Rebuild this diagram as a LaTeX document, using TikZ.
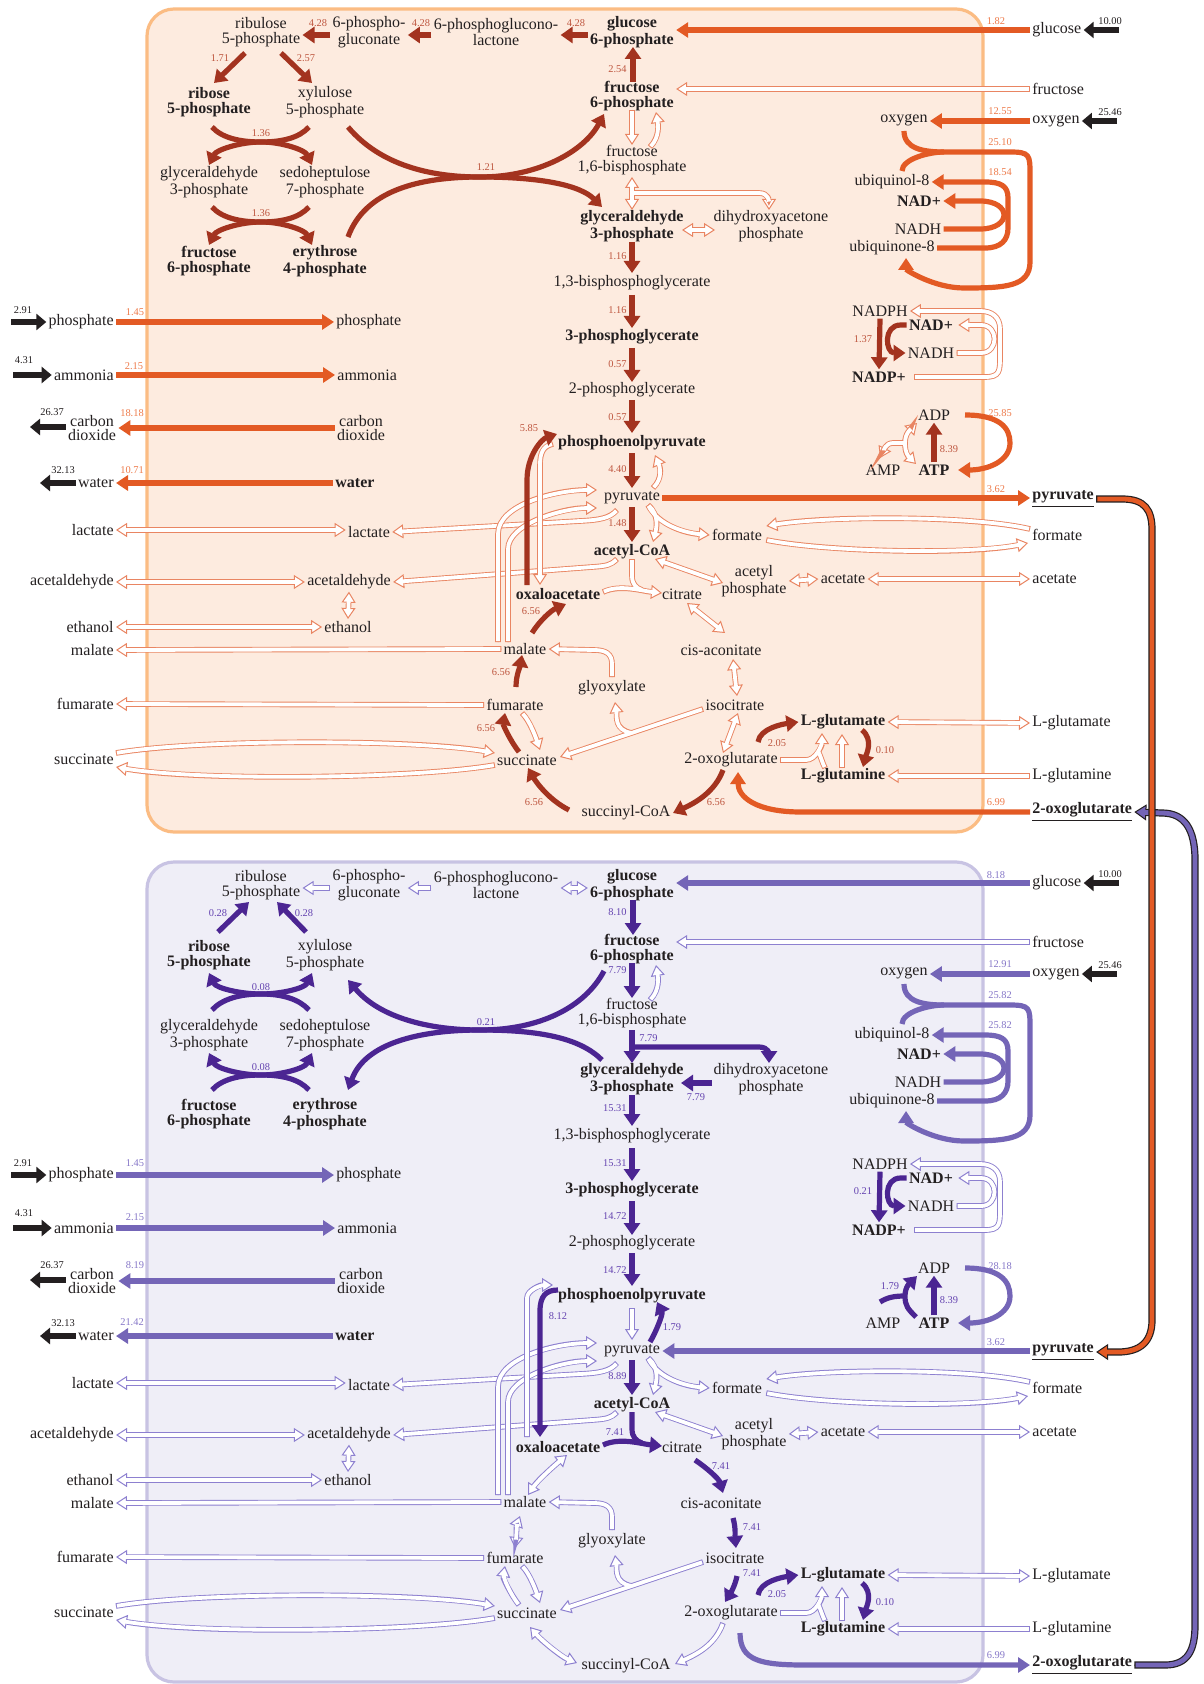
\documentclass[tikz,border=0pt]{standalone}
\usepackage{fontspec}
\setmainfont{Liberation Serif}
\usetikzlibrary{arrows.meta,calc}

\definecolor{txt}{HTML}{231F20}
\definecolor{topbg}{HTML}{FDEBDF}
\definecolor{topbd}{HTML}{FBBC83}
\definecolor{topdk}{HTML}{A3331F}
\definecolor{topex}{HTML}{E35A24}
\definecolor{topho}{HTML}{E98562}
\definecolor{topnd}{HTML}{BE563F}
\definecolor{topne}{HTML}{EE7B4B}
\definecolor{botbg}{HTML}{EFEEF7}
\definecolor{botbd}{HTML}{C8C3E3}
\definecolor{botdk}{HTML}{4B2592}
\definecolor{botex}{HTML}{7465B7}
\definecolor{botho}{HTML}{8D80D0}
\definecolor{botnd}{HTML}{6443B0}
\definecolor{botne}{HTML}{8677C8}
\colorlet{cdk}{topdk}\colorlet{cex}{topex}\colorlet{cho}{topho}\colorlet{cnd}{topnd}\colorlet{cne}{topne}

\tikzset{
 lab/.style={font=\fontsize{8}{7.2}\selectfont, text=txt, align=center, inner sep=1pt},
 blab/.style={lab, font=\fontsize{8}{7.2}\selectfont\bfseries},
 nd/.style={font=\fontsize{5.2}{5.2}\selectfont, text=cnd, inner sep=0.5pt},
 ne/.style={font=\fontsize{5.2}{5.2}\selectfont, text=cne, inner sep=0.5pt},
 nk/.style={font=\fontsize{5.2}{5.2}\selectfont, text=txt, inner sep=0.5pt},
 dkA/.style={draw=cdk, line width=2.6pt, -{Triangle[width=8pt,length=6pt]}},
 dkL/.style={draw=cdk, line width=2.6pt},
 exA/.style={draw=cex, line width=2.6pt, -{Triangle[width=7.5pt,length=6pt]}},
 exL/.style={draw=cex, line width=2.6pt},
 blkA/.style={draw=txt, line width=3.2pt, -{Triangle[width=8pt,length=5pt]}},
 htE/.style={draw=cho, line width=0.5pt, -{Triangle[width=7pt,length=5.5pt,fill=white]}},
 htB/.style={draw=cho, line width=0.5pt, {Triangle[width=7pt,length=5.5pt,fill=white]}-{Triangle[width=7pt,length=5.5pt,fill=white]}},
 hb/.style={draw=cho, line width=2.8pt},
 hw/.style={draw=white, line width=1.9pt},
}

\newcommand\holA[1]{\draw[htE] #1;\draw[hb,shorten >=5.5pt] #1;\draw[hw,shorten >=4.2pt,shorten <=0.5pt] #1;}
\newcommand\holD[1]{\draw[htB] #1;\draw[hb,shorten >=5.5pt,shorten <=5.5pt] #1;\draw[hw,shorten >=4.2pt,shorten <=4.2pt] #1;}
\newcommand\holYY[2]{\draw[htE] #1;\draw[htE] #2;\draw[hb,shorten >=5.5pt] #1;\draw[hb,shorten >=5.5pt] #2;\draw[hw,shorten >=4.2pt,shorten <=0.5pt] #1;\draw[hw,shorten >=4.2pt,shorten <=0.5pt] #2;}
\newcommand\holYN[2]{\draw[htE] #2;\draw[hb] #1;\draw[hb,shorten >=5.5pt] #2;\draw[hw,shorten <=0.5pt] #1;\draw[hw,shorten >=4.2pt,shorten <=0.5pt] #2;}
\newcommand\xarrow[2]{%
 \draw[draw=txt,line width=0.5pt,-{Triangle[width=8pt,length=6pt,fill=#1]}] #2;
 \draw[draw=txt,line width=3.6pt,shorten >=5.8pt] #2;
 \draw[draw=#1,line width=2.4pt,shorten >=4.6pt,shorten <=0.6pt] #2;}

\newcommand\panelnodes{%
\node[lab] (rl5p) at (261,32) {ribulose\\5-phosphate};
\node[lab] (pgn) at (369,32) {6-phospho-\\gluconate};
\node[lab] (pgl) at (496,32) {6-phosphoglucono-\\lactone};
\node[blab] (g6p) at (632,32) {glucose\\6-phosphate};
\node[blab] (r5p) at (209,102) {ribose\\5-phosphate};
\node[lab] (xu5p) at (325,102) {xylulose\\5-phosphate};
\node[lab] (gapL) at (209,182) {glyceraldehyde\\3-phosphate};
\node[lab] (s7p) at (325,182) {sedoheptulose\\7-phosphate};
\node[blab] (f6pL) at (209,261) {fructose\\6-phosphate};
\node[blab] (e4p) at (325,261) {erythrose\\4-phosphate};
\node[blab] (f6p) at (632,96) {fructose\\6-phosphate};
\node[lab] (fbp) at (632,160) {fructose\\1,6-bisphosphate};
\node[blab] (gap) at (632,226) {glyceraldehyde\\3-phosphate};
\node[lab] (dhap) at (771,226) {dihydroxyacetone\\phosphate};
\node[lab] (bpg) at (632,283) {1,3-bisphosphoglycerate};
\node[blab] (pg3) at (632,337) {3-phosphoglycerate};
\node[lab] (pg2) at (632,390) {2-phosphoglycerate};
\node[blab] (pep) at (632,443) {phosphoenolpyruvate};
\node[lab] (pyr) at (632,498) {pyruvate};
\node[blab] (accoa) at (632,552) {acetyl-CoA};
\node[blab] (oaa) at (558,594) {oxaloacetate};
\node[lab] (cit) at (682,594) {citrate};
\node[lab] (form) at (737,535) {formate};
\node[lab] (acp) at (754,581) {acetyl\\phosphate};
\node[lab] (ace) at (843,579) {acetate};
\node[lab] (mal) at (525,649) {malate};
\node[lab] (acon) at (721,650) {cis-aconitate};
\node[lab] (glx) at (612,688) {glyoxylate};
\node[lab] (fum) at (515,705) {fumarate};
\node[lab] (icit) at (735,705) {isocitrate};
\node[lab] (suc) at (527,760) {succinate};
\node[lab] (akg) at (731,760) {2-oxoglutarate};
\node[lab] (succoa) at (626,813) {succinyl-CoA};
\node[blab] (glu) at (843,722) {L-glutamate};
\node[blab] (gln) at (843,776) {L-glutamine};
\node[lab] (o2) at (904,120) {oxygen};
\node[lab] (uql) at (892,182) {ubiquinol-8};
\node[blab] (nad1) at (919,201) {NAD+};
\node[lab] (nadh1) at (918,229) {NADH};
\node[lab] (uq) at (892,248) {ubiquinone-8};
\node[lab] (nadph) at (880,311) {NADPH};
\node[blab] (nad2) at (931,325) {NAD+};
\node[lab] (nadh2) at (931,353) {NADH};
\node[blab] (nadp) at (879,377) {NADP+};
\node[lab] (adp) at (934,415) {ADP};
\node[lab] (amp) at (883,470) {AMP};
\node[blab] (atp) at (934,470) {ATP};
\node[lab,anchor=west] (xglc) at (1030,30) {glucose};
\node[lab,anchor=west] (xfru) at (1030,89) {fructose};
\node[lab,anchor=west] (xo2) at (1030,121) {oxygen};
\node[lab,anchor=west] (xpyr) at (1030,499) {\underline{\textbf{pyruvate}}};
\node[lab,anchor=west] (xform) at (1030,535) {formate};
\node[lab,anchor=west] (xace) at (1030,579) {acetate};
\node[lab,anchor=west] (xglu) at (1030,723) {L-glutamate};
\node[lab,anchor=west] (xgln) at (1030,776) {L-glutamine};
\node[lab,anchor=west] (xakg) at (1030,812) {\underline{\textbf{2-oxoglutarate}}};
\node[lab,anchor=east] (xpi) at (116,322) {phosphate};
\node[lab,anchor=east] (xnh3) at (116,375) {ammonia};
\node[lab] (xco2) at (92,428) {carbon\\dioxide};
\node[lab,anchor=east] (xh2o) at (116,483) {water};
\node[lab,anchor=east] (xlac) at (116,530) {lactate};
\node[lab,anchor=east] (xacald) at (116,582) {acetaldehyde};
\node[lab,anchor=east] (xetoh) at (116,627) {ethanol};
\node[lab,anchor=east] (xmal) at (116,650) {malate};
\node[lab,anchor=east] (xfum) at (116,704) {fumarate};
\node[lab,anchor=east] (xsuc) at (116,759) {succinate};
\node[lab,anchor=west] (pi) at (334,322) {phosphate};
\node[lab,anchor=west] (nh3) at (335,375) {ammonia};
\node[lab] (co2) at (361,428) {carbon\\dioxide};
\node[blab,anchor=west] (h2o) at (333,483) {water};
\node[lab] (lac) at (369,532) {lactate};
\node[lab] (acald) at (349,582) {acetaldehyde};
\node[lab] (etoh) at (348,627) {ethanol};
\coordinate (kpi) at (11,322);
\coordinate (knh3) at (13,375);
\coordinate (kco2) at (30,427);
\coordinate (kh2o) at (40,483);
\coordinate (kglc) at (1119,30);
\coordinate (ko2) at (1117,121);
\coordinate (J) at ($(adp)+(-29,28)$);
}

\newcommand\blackarrows{%
\draw[blkA] (kpi) -- (xpi.west);
\draw[blkA] (knh3) -- (xnh3.west);
\draw[blkA] (xco2.west |- kco2) -- (kco2);
\draw[blkA] (xh2o.west) -- (kh2o);
\draw[blkA] (kglc) -- (xglc.east);
\draw[blkA] (ko2) -- (xo2.east);
\node[nk] (k1) at (23,310) {2.91};
\node[nk] (k2) at (24,360) {4.31};
\node[nk] (k3) at (52,412) {26.37};
\node[nk] (k4) at (63,470) {32.13};
\node[nk] (k5) at (1110,21) {10.00};
\node[nk] (k6) at (1110,112) {25.46};
}

\newcommand\commonarrows{%
\draw[exA] (xglc.west) -- (g6p.east |- xglc.west);
\holA{(xfru.west) -- (f6p.east |- xfru.west)}
\draw[exA] (xo2.west) -- (o2.east |- xo2.west);
\draw[exA] (xpi.east) -- (pi.west);
\draw[exA] (xnh3.east) -- (nh3.west);
\draw[exA] (co2.west) -- (xco2.east);
\draw[exA] (h2o.west) -- (xh2o.east);
\holD{(xlac.east) -- (lac.west |- xlac.east)}
\holD{(xacald.east) -- (acald.west)}
\holD{(xetoh.east) -- (etoh.west)}
\holD{(acald.south) -- (etoh.north)}
\holA{(mal.west) -- (xmal.east)}
\holA{(fum.west) -- (xfum.east)}
\holA{($(xsuc.east)+(0,-6)$) .. controls +(80,-14) and +(-80,-14) .. ($(suc.west)+(0,-7)$)}
\holA{($(suc.west)+(0,5)$) .. controls +(-80,14) and +(80,14) .. ($(xsuc.east)+(0,8)$)}
\holA{($(xform.west)+(0,-6)$) .. controls +(-60,-14) and +(60,-10) .. ($(form.east)+(2,-9)$)}
\holA{($(form.east)+(2,5)$) .. controls +(60,12) and +(-60,12) .. ($(xform.west)+(-2,8)$)}
\holD{(ace.east) -- (xace.west)}
\holD{(glu.east) -- (xglu.west)}
\holA{(xgln.west) -- (gln.east)}
% respiration loops
\draw[exL] ($(uql)+(10,-11)$) .. controls +(0,-12) and +(-15,0) .. ($(o2)+(40,32)$);
\draw[exA] ($(o2)+(0,11)$) .. controls +(0,18) and +(-20,0) .. ($(o2)+(40,32)$) -- ($(o2)+(106,32)$) .. controls +(20,0) and +(0,-20) .. ($(o2)+(126,55)$) -- ($(o2)+(126,142)$) .. controls +(0,25) and +(40,0) .. ($(o2)+(60,168)$) .. controls +(-30,0) and +(0,12) .. ($(uq)+(14,10)$);
\draw[exA] (uq.east) -- ($(uq)+(93,0)$) .. controls +(16,0) and +(0,12) .. ($(uq)+(116,-20)$) -- ($(uq)+(116,-50)$) .. controls +(0,-12) and +(16,0) .. ($(uq)+(93,-66)$) -- (uql.east);
\draw[exA] (nadh1.east) -- ($(nadh1)+(62,0)$) .. controls +(32,0) and +(32,0) .. ($(nadh1)+(62,-28)$) -- (nad1.east);
% transhydrogenase
\holA{($(nadp.east)+(6,0)$) -- ($(nadph)+(105,66)$) .. controls +(15,0) and +(0,15) .. ($(nadph)+(120,45)$) -- ($(nadph)+(120,18)$) .. controls +(0,-12) and +(12,0) .. ($(nadph)+(100,0)$) -- (nadph.east)}
\holA{(nadh2.east) -- ($(nadh2)+(50,0)$) .. controls +(18,0) and +(18,0) .. ($(nad2)+(50,0)$) -- ($(nad2.east)+(3,0)$)}
\draw[dkA] (nadph.south) -- (nadp.north);
\draw[dkA] (nad2.west) -- ($(nad2.west)+(-6,0)$) .. controls +(-18,0) and +(-20,0) .. (nadh2.west);
% ATP
\draw[dkA] (atp.north) -- (adp.south);
\draw[exA] ($(adp)+(31,0)$) .. controls +(35,0) and +(0,-15) .. ($(adp)+(76,28)$) .. controls +(0,18) and +(30,0) .. ($(atp)+(24,0)$);
% glycolysis
\draw[dkA] ($(gap)+(0,16)$) -- ($(bpg)+(0,-10)$);
\draw[dkA] ($(bpg)+(0,12)$) -- ($(pg3)+(0,-9)$);
\draw[dkA] ($(pg3)+(0,11)$) -- ($(pg2)+(0,-8)$);
\draw[dkA] ($(pg2)+(0,10)$) -- ($(pep)+(0,-10)$);
\draw[dkA] ($(pyr)+(0,9)$) -- ($(accoa)+(0,-10)$);
\holA{($(fbp)+(18,-13)$) .. controls +(10,-10) and +(2,12) .. ($(f6p)+(24,16)$)}
% fermentation / malic enzyme
\holA{($(pyr)+(-15,12)$) .. controls +(-7,8) and +(20,-1) .. ($(pyr)+(-52,23)$) -- (lac.east)}
\holA{($(accoa)+(-15,7)$) .. controls +(-6,6) and +(15,-1) .. ($(accoa)+(-40,15)$) -- (acald.east)}
\holA{($(mal)+(-27,-7)$) -- ($(mal)+(-27,-115)$) .. controls +(0,-30) and +(-40,0) .. ($(pyr)+(-35,-8)$)}
\holA{($(mal)+(-17,-7)$) -- ($(mal)+(-17,-100)$) .. controls +(0,-25) and +(-35,0) .. ($(pyr)+(-35,10)$)}
\holYY{($(pyr)+(16,7)$) .. controls +(12,10) and +(3,-12) .. ($(accoa)+(21,-10)$)}{($(pyr)+(16,7)$) .. controls +(10,20) and +(-25,-2) .. (form.west)}
\holD{($(accoa)+(23,7)$) -- ($(acp)+(-31,2)$)}
\holD{(acp.east) -- (ace.west)}
% glyoxylate shunt
\holYY{($(icit)+(-103,28)$) .. controls +(-18,-3) and +(2,14) .. ($(glx)+(3,14)$)}{($(icit)+(-32,4)$) -- ($(suc)+(33,-3)$)}
\holA{($(glx)+(0,-11)$) -- ($(glx)+(0,-24)$) .. controls +(0,-10) and +(12,0) .. ($(glx)+(-18,-38)$) -- (mal.east)}
\holA{($(fum)+(7,8)$) .. controls +(8,8) and +(-4,-12) .. ($(suc)+(13,-10)$)}
% glutamate
\holA{($(gln)+(-1,-8)$) -- ($(glu)+(-1,12)$)}
\holYN{($(gln)+(-18,-8)$) .. controls +(-3,-6) and +(3,6) .. ($(glu)+(-25,29)$)}{(akg.east) -- ($(akg)+(75,0)$) .. controls +(10,0) and +(0,12) .. ($(glu)+(-21,11)$)}
\draw[dkA] ($(akg)+(27,-18)$) .. controls +(2,-14) and +(-15,2) .. (glu.west);
\draw[dkA] ($(glu)+(19,8)$) .. controls +(12,10) and +(3,-12) .. ($(gln)+(20,-9)$);
}

\begin{document}
\begin{tikzpicture}[x=0.5pt,y=-0.5pt]
\useasboundingbox (0,0) rectangle (1203,1684);
\fill[white] (0,0) rectangle (1203,1684);

%================ TOP PANEL =================
\begin{scope}[name prefix=t-]
\colorlet{cdk}{topdk}\colorlet{cex}{topex}\colorlet{cho}{topho}\colorlet{cnd}{topnd}\colorlet{cne}{topne}
\draw[fill=topbg,draw=topbd,line width=1.6pt,rounded corners=13.5pt] (147,9) rectangle (983,832);
\panelnodes
\blackarrows
\commonarrows
% pentose phosphate
\draw[dkA] ([yshift=-1.5pt]pgn.west) -- ([yshift=-1.5pt]rl5p.east);
\draw[dkA] ([yshift=-1.5pt]pgl.west) -- ([yshift=-1.5pt]pgn.east);
\draw[dkA] ([yshift=-1.5pt]g6p.west) -- ([yshift=-1.5pt]pgl.east);
\draw[dkA] ($(rl5p)+(-16,21)$) -- ($(r5p)+(5,-19)$);
\draw[dkA] ($(rl5p)+(20,21)$) -- ($(xu5p)+(-13,-19)$);
\coordinate (c1) at ($(r5p)!0.5!(xu5p)+(-6,40)$);
\coordinate (c2) at ($(gapL)!0.5!(s7p)+(-6,40)$);
\coordinate (c3) at ($(xu5p)+(155,75)$);
\draw[dkA] ($(r5p)+(3,25)$) .. controls +(10,11) and +(-21,0) .. (c1) .. controls +(21,0) and +(-7,-15) .. ($(s7p)+(-13,-17)$);
\draw[dkA] ($(xu5p)+(-16,25)$) .. controls +(-10,11) and +(21,0) .. (c1) .. controls +(-21,0) and +(7,-15) .. ($(gapL)+(0,-17)$);
\draw[dkA] ($(gapL)+(3,25)$) .. controls +(10,11) and +(-21,0) .. (c2) .. controls +(21,0) and +(-7,-15) .. ($(e4p)+(-13,-16)$);
\draw[dkA] ($(s7p)+(-16,25)$) .. controls +(-10,11) and +(21,0) .. (c2) .. controls +(-21,0) and +(7,-15) .. ($(f6pL)+(0,-16)$);
\draw[dkA] ($(xu5p)+(23,25)$) .. controls +(32,38) and +(-50,0) .. (c3) .. controls +(60,0) and +(-19,36) .. ($(f6p)+(-28,18)$);
\draw[dkA] ($(e4p)+(23,-24)$) .. controls +(17,-47) and +(-60,0) .. (c3) .. controls +(60,0) and +(-22,-22) .. ($(gap)+(-30,-19)$);
% upper glycolysis
\draw[dkA] ($(f6p)+(1,-14)$) -- ($(g6p)+(1,15)$);
\holA{($(f6p)+(0,14)$) -- ($(fbp)+(0,-15)$)}
\draw[htB] ($(fbp)+(0,17)$) -- ($(gap)+(0,-16)$);
\draw[htE] ($(fbp)+(0,33)$) -- ($(dhap)+(-12,-33)$) .. controls +(10,0) and +(0,-8) .. ($(dhap)+(-2,-16)$);
\draw[hb,shorten >=5.5pt,shorten <=5.5pt] ($(fbp)+(0,17)$) -- ($(gap)+(0,-16)$);
\draw[hb,shorten >=5.5pt] ($(fbp)+(0,33)$) -- ($(dhap)+(-12,-33)$) .. controls +(10,0) and +(0,-8) .. ($(dhap)+(-2,-16)$);
\draw[hw,shorten >=4.2pt,shorten <=4.2pt] ($(fbp)+(0,17)$) -- ($(gap)+(0,-16)$);
\draw[hw,shorten >=4.2pt] ($(fbp)+(0,33)$) -- ($(dhap)+(-12,-33)$) .. controls +(10,0) and +(0,-8) .. ($(dhap)+(-2,-16)$);
\holD{($(gap)+(50,4)$) -- ($(dhap)+(-56,4)$)}
% PEP / pyruvate / OAA
\draw[dkA] ($(pep)+(0,10)$) -- ($(pyr)+(0,-10)$);
\holA{($(pyr)+(21,-10)$) .. controls +(10,-10) and +(5,12) .. ($(pep)+(23,12)$)}
\holA{($(pep)+(-79,1)$) .. controls +(-10,2) and +(0,-12) .. ($(oaa)+(-18,-129)$) -- ($(oaa)+(-18,-9)$)}
\draw[dkA] ($(oaa)+(-31,-9)$) -- ($(oaa)+(-31,-114)$) .. controls +(0,-25) and +(-15,5) .. ($(pep)+(-75,-9)$);
\holYN{($(accoa)+(0,7)$) -- ($(accoa)+(0,24)$) .. controls +(0,8) and +(-6,-2) .. ($(accoa)+(10,38)$)}{($(oaa)+(45,-2)$) .. controls +(17,-8) and +(-20,-2) .. ($(cit)+(-20,-1)$)}
% TCA
\holD{($(cit)+(5,9)$) -- ($(acon)+(4,-17)$)}
\holD{($(acon)+(12,9)$) -- ($(icit)+(2,-9)$)}
\holD{($(icit)+(3,8)$) -- ($(akg)+(-8,-7)$)}
\draw[dkA] ($(akg)+(-8,10)$) .. controls +(-8,22) and +(22,-10) .. ($(succoa)+(47,0)$);
\draw[dkA] ($(succoa)+(-57,-3)$) .. controls +(-20,-10) and +(8,14) .. ($(suc)+(1,8)$);
\draw[dkA] ($(suc)+(-8,-8)$) .. controls +(-8,-10) and +(-2,12) .. ($(fum)+(-10,8)$);
\draw[dkA] ($(fum)+(1,-18)$) .. controls +(0,-12) and +(-2,12) .. ($(mal)+(-3,6)$);
\draw[dkA] ($(mal)+(7,-16)$) .. controls +(8,-13) and +(-14,6) .. ($(oaa)+(8,10)$);
% exchange
\draw[exA] (pyr.east) -- (xpyr.west |- pyr.east);
\draw[exA] (xakg.west) -- ($(akg)+(70,52)$) .. controls +(-45,0) and +(0,25) .. ($(akg)+(7,12)$);
% adenylate kinase (hollow)
\draw[htB] ($(atp)+(-18,-6)$) .. controls +(-8,-8) and +(0,10) .. (J) .. controls +(0,-10) and +(-6,6) .. ($(adp)+(-17,8)$);
\draw[htE] (J) -- ($(J)+(-12,0)$) .. controls +(-8,0) and +(3,-6) .. ($(amp)+(-3,-12)$);
\draw[hb,shorten >=5.5pt,shorten <=5.5pt] ($(atp)+(-18,-6)$) .. controls +(-8,-8) and +(0,10) .. (J) .. controls +(0,-10) and +(-6,6) .. ($(adp)+(-17,8)$);
\draw[hb,shorten >=5.5pt] (J) -- ($(J)+(-12,0)$) .. controls +(-8,0) and +(3,-6) .. ($(amp)+(-3,-12)$);
\draw[hw,shorten >=4.2pt,shorten <=4.2pt] ($(atp)+(-18,-6)$) .. controls +(-8,-8) and +(0,10) .. (J) .. controls +(0,-10) and +(-6,6) .. ($(adp)+(-17,8)$);
\draw[hw,shorten >=4.2pt] (J) -- ($(J)+(-12,0)$) .. controls +(-8,0) and +(3,-6) .. ($(amp)+(-3,-12)$);
% flux labels
\node[nd] (n1) at (318,23) {4.28};
\node[nd] (n2) at (421,23) {4.28};
\node[nd] (n3) at (576,23) {4.28};
\node[nd] (n4) at (220,58) {1.71};
\node[nd] (n5) at (306,58) {2.57};
\node[nd] (n6) at (261,133) {1.36};
\node[nd] (n7) at (261,213) {1.36};
\node[nd] (n8) at (486,167) {1.21};
\node[nd,anchor=east] (n9) at (628,69) {2.54};
\node[nd,anchor=east] (n10) at (628,256) {1.16};
\node[nd,anchor=east] (n11) at (628,310) {1.16};
\node[nd,anchor=east] (n12) at (628,364) {0.57};
\node[nd,anchor=east] (n13) at (628,417) {0.57};
\node[nd,anchor=east] (n14) at (628,469) {4.40};
\node[nd,anchor=east] (n15) at (628,523) {1.48};
\node[nd] (n16) at (529,428) {5.85};
\node[nd] (n17) at (531,611) {6.56};
\node[nd] (n18) at (501,672) {6.56};
\node[nd] (n19) at (486,728) {6.56};
\node[nd] (n20) at (534,802) {6.56};
\node[nd] (n21) at (716,802) {6.56};
\node[nd] (n22) at (777,743) {2.05};
\node[nd] (n23) at (885,750) {0.10};
\node[nd] (n24) at (863,339) {1.37};
\node[nd] (n25) at (949,449) {8.39};
\node[ne] (e1) at (996,21) {1.82};
\node[ne] (e2) at (1000,111) {12.55};
\node[ne] (e3) at (1000,142) {25.10};
\node[ne] (e4) at (1000,172) {18.54};
\node[ne] (e5) at (1000,413) {25.85};
\node[ne] (e6) at (996,489) {3.62};
\node[ne] (e7) at (996,802) {6.99};
\node[ne] (e8) at (135,312) {1.45};
\node[ne] (e9) at (134,366) {2.15};
\node[ne] (e10) at (132,413) {18.18};
\node[ne] (e11) at (132,470) {10.71};
\end{scope}

%================ BOTTOM PANEL =================
\begin{scope}[shift={(0,853)},name prefix=b-]
\colorlet{cdk}{botdk}\colorlet{cex}{botex}\colorlet{cho}{botho}\colorlet{cnd}{botnd}\colorlet{cne}{botne}
\draw[fill=botbg,draw=botbd,line width=1.6pt,rounded corners=13.5pt] (147,9) rectangle (983,829);
\panelnodes
\blackarrows
\commonarrows
% pentose phosphate
\holA{([yshift=-1.5pt]pgn.west) -- ([yshift=-1.5pt]rl5p.east)}
\holA{([yshift=-1.5pt]pgl.west) -- ([yshift=-1.5pt]pgn.east)}
\holD{([yshift=-1.5pt]g6p.west) -- ([yshift=-1.5pt]pgl.east)}
\draw[dkA] ($(r5p)+(9,-23)$) -- ($(rl5p)+(-12,17)$);
\draw[dkA] ($(xu5p)+(-19,-23)$) -- ($(rl5p)+(16,17)$);
\coordinate (c1) at ($(r5p)!0.5!(xu5p)+(-6,39)$);
\coordinate (c2) at ($(gapL)!0.5!(s7p)+(-6,40)$);
\coordinate (c3) at ($(xu5p)+(155,75)$);
\draw[dkA] ($(gapL)+(3,-25)$) .. controls +(10,-11) and +(-21,0) .. (c1) .. controls +(21,0) and +(-7,15) .. ($(xu5p)+(-13,18)$);
\draw[dkA] ($(s7p)+(-16,-25)$) .. controls +(-10,-11) and +(21,0) .. (c1) .. controls +(-21,0) and +(7,15) .. ($(r5p)+(0,18)$);
\draw[dkA] ($(f6pL)+(3,-24)$) .. controls +(10,-11) and +(-21,0) .. (c2) .. controls +(21,0) and +(-7,15) .. ($(s7p)+(-13,18)$);
\draw[dkA] ($(e4p)+(-16,-24)$) .. controls +(-10,-11) and +(21,0) .. (c2) .. controls +(-21,0) and +(7,15) .. ($(gapL)+(0,18)$);
\draw[dkA] ($(f6p)+(-28,22)$) .. controls +(-19,36) and +(60,0) .. (c3) .. controls +(-50,0) and +(32,38) .. ($(xu5p)+(23,25)$);
\draw[dkA] ($(gap)+(-30,-19)$) .. controls +(-22,-22) and +(60,0) .. (c3) .. controls +(-60,0) and +(17,-47) .. ($(e4p)+(23,-24)$);
% upper glycolysis
\draw[dkA] ($(g6p)+(1,15)$) -- ($(f6p)+(1,-14)$);
\draw[dkA] ($(f6p)+(0,14)$) -- ($(fbp)+(0,-15)$);
\draw[dkA] ($(fbp)+(0,17)$) -- ($(gap)+(0,-16)$);
\draw[dkA] ($(fbp)+(0,34)$) -- ($(dhap)+(-12,-32)$) .. controls +(10,0) and +(0,-8) .. ($(dhap)+(-2,-16)$);
\draw[dkA] ($(dhap)+(-59,4)$) -- ($(gap)+(49,4)$);
% PEP / pyruvate / OAA
\holA{($(pep)+(0,12)$) -- ($(pyr)+(0,-11)$)}
\holA{($(oaa)+(-31,-10)$) -- ($(pep)+(-105,2)$) .. controls +(0,-8) and +(-12,0) .. ($(pep)+(-79,-11)$)}
\draw[dkA] ($(pyr)+(18,-9)$) .. controls +(6,-10) and +(6,12) .. ($(pep)+(25,6)$);
\draw[dkA] ($(pep)+(-74,-6)$) .. controls +(-12,0) and +(0,-15) .. ($(pep)+(-92,15)$) -- ($(oaa)+(-18,-10)$);
\draw[dkL] ($(accoa)+(0,7)$) -- ($(accoa)+(0,24)$) .. controls +(0,8) and +(-6,-2) .. ($(accoa)+(10,38)$);
\draw[dkA] ($(oaa)+(45,-2)$) .. controls +(17,-8) and +(-20,-2) .. ($(cit)+(-20,-1)$);
% TCA
\draw[dkA] ($(cit)+(13,13)$) .. controls +(12,8) and +(-4,-14) .. ($(acon)+(2,-10)$);
\draw[dkA] ($(acon)+(12,15)$) .. controls +(3,10) and +(-1,-10) .. ($(icit)+(1,-10)$);
\draw[dkA] ($(icit)+(2,18)$) .. controls +(-2,10) and +(5,-8) .. ($(akg)+(-6,-11)$);
\holA{($(akg)+(-8,10)$) .. controls +(-8,22) and +(22,-10) .. ($(succoa)+(49,-2)$)}
\holD{($(suc)+(3,14)$) .. controls +(12,14) and +(-15,-6) .. ($(succoa)+(-49,-3)$)}
\holA{($(suc)+(-8,-8)$) .. controls +(-8,-10) and +(-2,12) .. ($(fum)+(-10,8)$)}
\holD{($(mal)+(-5,14)$) .. controls +(-3,8) and +(1,-8) .. ($(fum)+(0,-10)$)}
\holD{($(mal)+(3,-7)$) .. controls +(10,-15) and +(-12,10) .. ($(oaa)+(9,8)$)}
% exchange
\draw[exA] (xpyr.west |- pyr.east) -- (pyr.east);
\draw[exA] ($(akg)+(9,20)$) .. controls +(0,28) and +(-45,0) .. ($(akg)+(75,52)$) -- (xakg.west);
% adenylate kinase
\draw[dkL] ($(amp)+(-3,-21)$) .. controls +(8,-5) and +(-10,0) .. (J);
\draw[dkA] ($(atp)+(-18,-6)$) .. controls +(-8,-8) and +(0,10) .. (J) .. controls +(0,-10) and +(-6,6) .. ($(adp)+(-17,8)$);
% flux labels
\node[nd] (n1) at (218,60) {0.28};
\node[nd] (n2) at (304,60) {0.28};
\node[nd] (n3) at (261,134) {0.08};
\node[nd] (n4) at (261,214) {0.08};
\node[nd] (n5) at (486,169) {0.21};
\node[nd,anchor=east] (n6) at (628,59) {8.10};
\node[nd,anchor=east] (n7) at (628,117) {7.79};
\node[nd,anchor=west] (n8) at (638,185) {7.79};
\node[nd] (n9) at (696,244) {7.79};
\node[nd,anchor=east] (n10) at (628,255) {15.31};
\node[nd,anchor=east] (n11) at (628,310) {15.31};
\node[nd,anchor=east] (n12) at (628,363) {14.72};
\node[nd,anchor=east] (n13) at (628,417) {14.72};
\node[nd] (n14) at (558,463) {8.12};
\node[nd] (n15) at (672,474) {1.79};
\node[nd,anchor=east] (n16) at (628,523) {8.89};
\node[nd] (n17) at (615,579) {7.41};
\node[nd] (n18) at (721,613) {7.41};
\node[nd] (n19) at (752,674) {7.41};
\node[nd] (n20) at (752,720) {7.41};
\node[nd] (n21) at (777,741) {2.05};
\node[nd] (n22) at (885,749) {0.10};
\node[nd] (n23) at (863,338) {0.21};
\node[nd] (n24) at (949,447) {8.39};
\node[nd] (n25) at (890,433) {1.79};
\node[ne] (e1) at (996,22) {8.18};
\node[ne] (e2) at (1000,111) {12.91};
\node[ne] (e3) at (1000,142) {25.82};
\node[ne] (e4) at (1000,172) {25.82};
\node[ne] (e5) at (1000,413) {28.18};
\node[ne] (e6) at (996,489) {3.62};
\node[ne] (e7) at (996,802) {6.99};
\node[ne] (e8) at (135,310) {1.45};
\node[ne] (e9) at (135,364) {2.15};
\node[ne] (e10) at (135,412) {8.19};
\node[ne] (e11) at (132,469) {21.42};
\end{scope}

%================ connectors between panels =================
\xarrow{botex}{(b-xakg.east) -- (1165,1665) .. controls (1188,1665) and (1195,1650) .. (1195,1625) -- (1195,860) .. controls (1195,830) and (1185,813) .. (1162,813) -- (t-xakg.east)}
\xarrow{topex}{(t-xpyr.east) -- (1122,499) .. controls (1145,499) and (1152,510) .. (1152,530) -- (1152,1320) .. controls (1152,1342) and (1140,1352) .. (1118,1352) -- (b-xpyr.east)}
\end{tikzpicture}
\end{document}
